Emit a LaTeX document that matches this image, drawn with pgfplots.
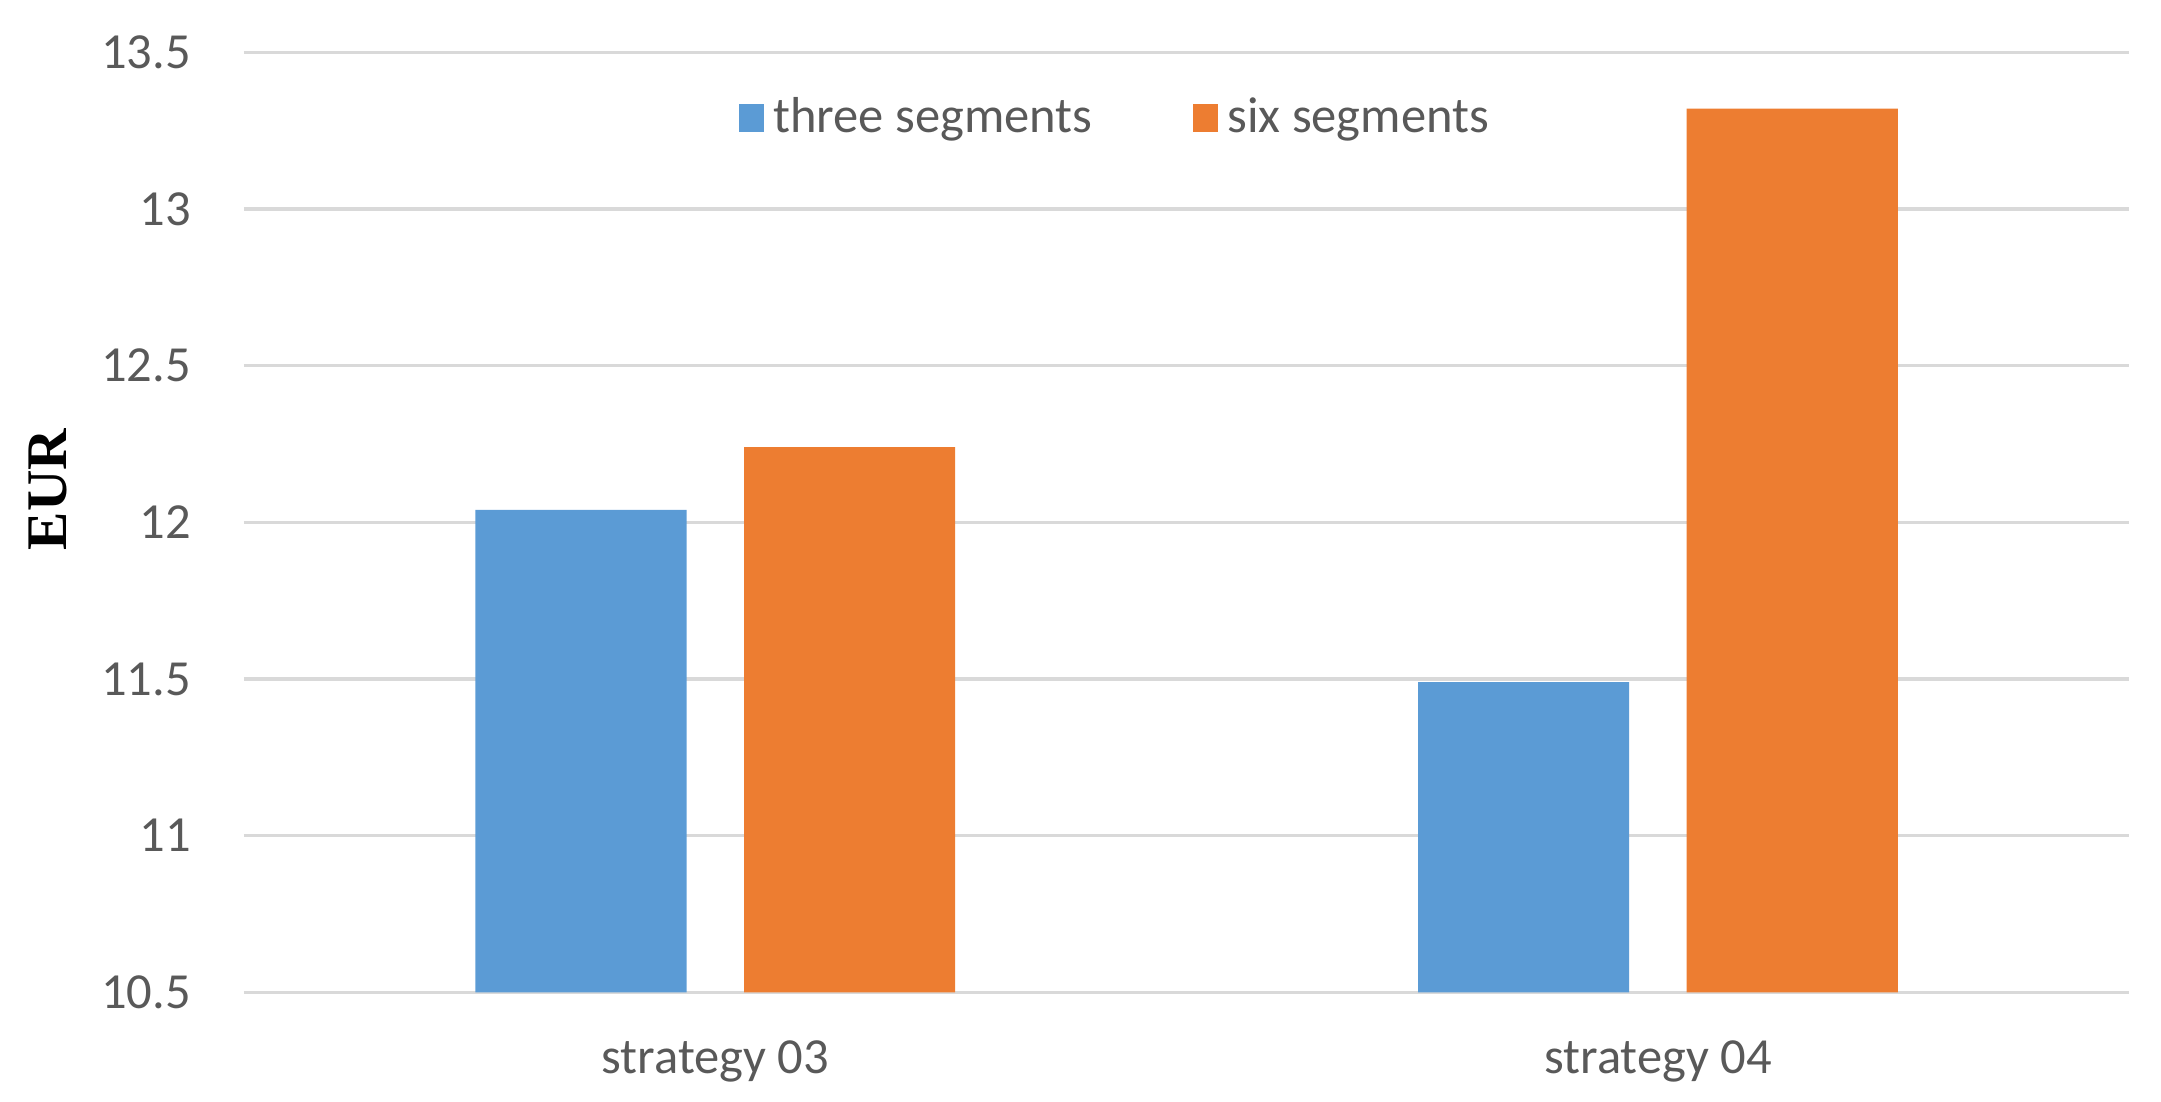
\documentclass[border=0pt]{standalone}
\usepackage{fontspec}
\setmainfont{Carlito}
\newfontfamily\eurfont{Liberation Serif}
\usepackage{pgfplots}
\pgfplotsset{compat=1.18}
\definecolor{xlblue}{HTML}{5B9BD5}
\definecolor{xlorange}{HTML}{ED7D31}
\definecolor{gridgray}{HTML}{D9D9D9}
\definecolor{txtgray}{HTML}{595959}
\begin{document}
\begin{tikzpicture}
\path (0,0) rectangle (470.4pt,239.7pt);
\begin{axis}[
  at={(53.1pt,23.7pt)}, anchor=south west,
  scale only axis,
  width=410.4pt, height=204.6pt,
  ymin=10.5, ymax=13.5,
  ytick={10.5,11,11.5,12,12.5,13,13.5},
  xmin=-0.5, xmax=1.5,
  xtick={0,1},
  xticklabels={strategy 03,strategy 04},
  axis line style={draw=none},
  tick style={draw=none},
  ymajorgrids,
  grid style={gridgray, line width=0.7pt},
  /pgf/number format/assume math mode=true,
  every tick label/.append style={font=\fontsize{11}{13}\selectfont, text=txtgray},
  yticklabel style={xshift=-8pt},
  xticklabel style={anchor=center, yshift=-15pt},
  ylabel={\eurfont\bfseries EUR},
  ylabel style={at={(axis description cs:-0.1038,0.535)}, anchor=center, font=\fontsize{12.5}{14}\selectfont},
  bar width=0.224,
  legend columns=2,
  legend style={at={(0.464,0.93)}, anchor=center, draw=none, fill=none,
    font=\fontsize{11}{13}\selectfont, text=txtgray,
    /tikz/every even column/.append style={column sep=20pt}},
  legend image code/.code={\fill[#1] (0pt,-3pt) rectangle (5.4pt,3pt);},
]
\addplot[ybar, bar shift=-0.1425, fill=xlblue, draw=none]
  coordinates {(0,12.04) (1,11.49)};
\addlegendentry{three segments}
\addplot[ybar, bar shift=0.1425, fill=xlorange, draw=none]
  coordinates {(0,12.24) (1,13.32)};
\addlegendentry{six segments}
\end{axis}
\end{tikzpicture}
\end{document}
